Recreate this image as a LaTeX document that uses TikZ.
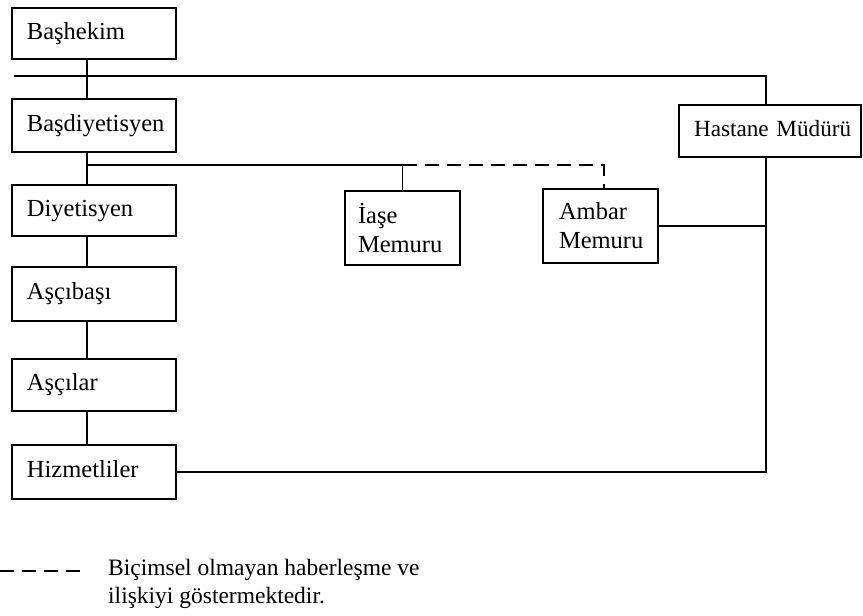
\documentclass[tikz,border=0pt]{standalone}
\usepackage{fontspec}
\setmainfont{Liberation Serif}
\begin{document}
\begin{tikzpicture}[x=1pt,y=-1pt,
  every node/.style={font=\fontsize{24.5}{29}\selectfont},
  unit/.style={draw, line width=1.5pt, rectangle, inner ysep=0pt, align=left},
  oneline/.style={text height=16pt, text depth=5pt},
  link/.style={line width=1.5pt},
  informal/.style={line width=1.5pt, dash pattern=on 14pt off 8pt},
  keytext/.style={anchor=base west, inner sep=0pt, font=\fontsize{23.5}{28}\selectfont},
]
\useasboundingbox (0,0) rectangle (863,616);

% chain of command down the kitchen
\node[unit, oneline, inner xsep=15pt, text width=134pt, minimum height=51pt] (bashekim) at (94,33.5) {Başhekim};
\node[unit, oneline, inner xsep=15pt, text width=134pt, minimum height=53pt] (basdiyet) at (94,125.5) {Başdiyetisyen};
\node[unit, oneline, inner xsep=15pt, text width=134pt, minimum height=51pt] (diyet) at (94,210.5) {Diyetisyen};
\node[unit, oneline, inner xsep=15pt, text width=134pt, minimum height=54pt] (ascibasi) at (94,294) {Aşçıbaşı};
\node[unit, oneline, inner xsep=15pt, text width=134pt, minimum height=52pt] (ascilar) at (94,385) {Aşçılar};
\node[unit, oneline, inner xsep=15pt, text width=134pt, minimum height=54pt] (hizmet) at (94,472) {Hizmetliler};

% staff offices
\node[unit, inner xsep=13pt, text width=89pt, minimum height=74pt] (iase) at (402.5,228) {İaşe\\Memuru};
\node[unit, inner xsep=16pt, text width=83pt, minimum height=74pt] (ambar) at (600.5,226) {Ambar\\Memuru};
\node[unit, oneline, inner xsep=15pt, text width=152pt, minimum height=52pt,
      font=\fontsize{23.2}{28}\selectfont] (hastane) at (770,131) {Hastane~Müdürü};

% guide coordinates for the connector lines
\coordinate (spine) at (87,0);
\coordinate (hx) at (766,0);
\coordinate (ambx) at (604,0);
\coordinate (topbar) at (14,76);
\coordinate (branch) at (87,165);

% formal links
\draw[link] (bashekim.south -| spine) -- (basdiyet.north -| spine);
\draw[link] (topbar) -| (hastane.north -| hx);
\draw[link] (basdiyet.south -| spine) -- (diyet.north -| spine);
\draw[link] (diyet.south -| spine) -- (ascibasi.north -| spine);
\draw[link] (ascibasi.south -| spine) -- (ascilar.north -| spine);
\draw[link] (ascilar.south -| spine) -- (hizmet.north -| spine);
\draw[link] (branch) -| (iase.north);
\draw[link] (ambar.east) -- (ambar.east -| hx);
\draw[link] (hastane.south -| hx) |- (hizmet.east);

% informal link
\draw[informal] (iase.north |- branch) -| (ambar.north -| ambx);

% key
\coordinate (keyA) at (0,571);
\coordinate (keyB) at (82,571);
\draw[informal] (keyA) -- (keyB);
\node[keytext] (key1) at (108,575) {Biçimsel olmayan haberleşme ve};
\node[keytext] (key2) at (108,603) {ilişkiyi göstermektedir.};
\end{tikzpicture}
\end{document}
